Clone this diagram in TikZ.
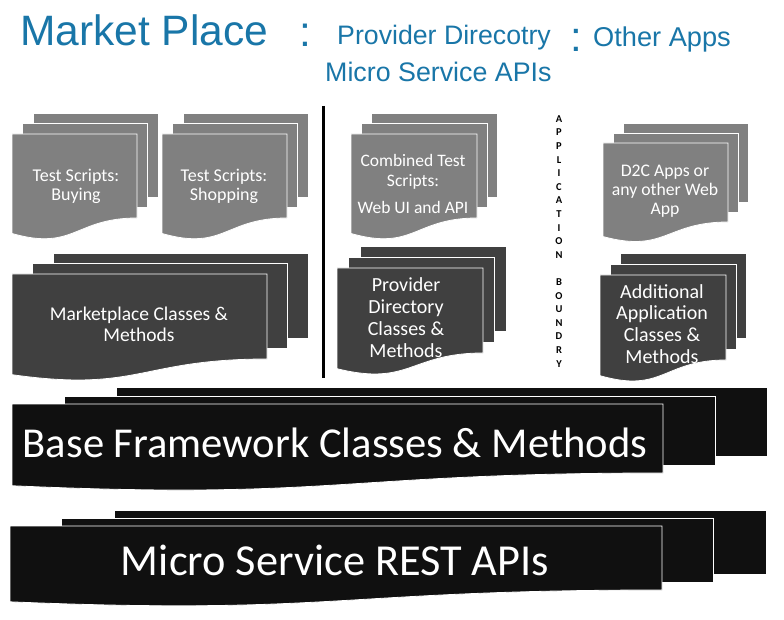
\documentclass[tikz,border=0pt]{standalone}
\usepackage{fontspec}
\setmainfont{Carlito}
\newfontfamily\titlefont{Liberation Sans}
\definecolor{titleblue}{RGB}{25,118,168}
\definecolor{docgray}{RGB}{128,128,128}
\definecolor{docdark}{RGB}{64,64,64}
\definecolor{docblack}{RGB}{16,16,16}
\tikzset{
  layer/.style={draw=white, line width=0.8pt},
  doctext/.style={text=white, align=center, inner sep=0pt, anchor=north},
  bigtext/.style={text=white, inner sep=0pt, anchor=base},
  titletext/.style={text=titleblue, inner sep=0pt},
}
% #1 fill, #2 L, #3 T, #4 R, #5 yr, #6 dx1, #7 dy1, #8 dx2, #9 dy2
\newcommand{\docstack}[9]{%
  \pgfmathsetmacro{\dsH}{(#5-#3)/0.802}%
  \pgfmathsetmacro{\dsYl}{#3+0.95*\dsH}%
  \pgfmathsetmacro{\dsCy}{#3+1.12*\dsH}%
  \pgfmathsetmacro{\dsM}{(#2+#4)/2}%
  \filldraw[layer, fill=#1] (#2+#8,#3-#9) rectangle (#4+#8,#5-#9);
  \filldraw[layer, fill=#1] (#2+#6,#3-#7) rectangle (#4+#6,#5-#7);
  \filldraw[layer, fill=#1] (#2,#3) -- (#4,#3) -- (#4,#5) .. controls (\dsM,#5) and (\dsM,\dsCy) .. (#2,\dsYl) -- cycle;
}
\begin{document}
\begin{tikzpicture}[x=1pt, y=-1pt]
\fill[white] (0,0) rectangle (784,620);
\useasboundingbox (0,0) rectangle (784,620);

% title row
\node[titletext, anchor=base west, font=\titlefont\fontsize{42.5}{48}\selectfont] (mp) at (20,46) {Market Place};
\node[titletext, anchor=base, font=\titlefont\fontsize{42.5}{48}\selectfont] (c1) at (305,47) {:};
\node[titletext, anchor=base west, font=\titlefont\fontsize{26.7}{30}\selectfont] (pd) at (337,45) {Provider Direcotry};
\node[titletext, anchor=base, font=\titlefont\fontsize{42}{48}\selectfont] (c2) at (576,52) {:};
\node[titletext, anchor=base west, font=\titlefont\fontsize{27.2}{30}\selectfont] (oa) at (593,47) {Other Apps};
\node[titletext, anchor=base west, font=\titlefont\fontsize{26.8}{30}\selectfont] (ms) at (325,82) {Micro Service APIs};

% document stacks
\docstack{docgray}{12}{134}{137}{218}{10}{11}{21}{21}
\docstack{docgray}{162}{134}{287}{218}{10}{11}{21}{21}
\docstack{docdark}{12}{274}{267}{359}{20}{11}{41}{21}
\docstack{docgray}{351}{134}{477}{218}{10}{11}{20}{21}
\docstack{docdark}{337}{268}{483}{353}{11}{11}{23}{22}
\docstack{docgray}{603}{143}{728}{222}{10}{10}{20}{20}
\docstack{docdark}{600}{275}{726}{360}{10}{11}{20}{22}
\docstack{docblack}{12}{404}{663}{473}{52}{8}{104}{17}
\docstack{docblack}{10}{526}{662}{590}{51}{8}{104}{16}

% texts
\node[doctext, font=\fontsize{18}{19}\selectfont] (buy) at (76,169) {Test Scripts:\\Buying};
\node[doctext, font=\fontsize{18}{19}\selectfont] (shop) at (224,169) {Test Scripts:\\Shopping};
\node[doctext, font=\fontsize{19.5}{21}\selectfont] (mcm) at (139,307) {Marketplace Classes \&\\Methods};
\node[doctext, font=\fontsize{17.5}{20}\selectfont] (cts) at (413,154.5) {Combined Test\\Scripts:\\[7pt]Web UI and API};
\node[doctext, font=\fontsize{20}{22}\selectfont] (pdc) at (406,277) {Provider\\Directory\\Classes \&\\Methods};
\node[doctext, font=\fontsize{17.7}{19}\selectfont] (d2c) at (665,165.3) {D2C Apps or\\any other Web\\App};
\node[doctext, font=\fontsize{20}{21.7}\selectfont] (aac) at (662,284) {Additional\\Application\\Classes \&\\Methods};
\node[bigtext, font=\fontsize{42.6}{46}\selectfont] (bfc) at (335,457) {Base Framework Classes \& Methods};
\node[bigtext, font=\fontsize{44.3}{48}\selectfont] (msr) at (335,575) {Micro Service REST APIs};

% divider and application boundary
\coordinate (divtop) at (323,106);
\coordinate (divbot) at (323,378);
\draw[line width=3pt, black] (divtop) -- (divbot);
\node[align=center, inner sep=0pt, anchor=north, font=\bfseries\fontsize{10.5}{13.6}\selectfont] (ab) at (559,115.3)
  {A\\P\\P\\L\\I\\C\\A\\T\\I\\O\\N\\[13.6pt]B\\O\\U\\N\\D\\R\\Y};
\end{tikzpicture}
\end{document}
